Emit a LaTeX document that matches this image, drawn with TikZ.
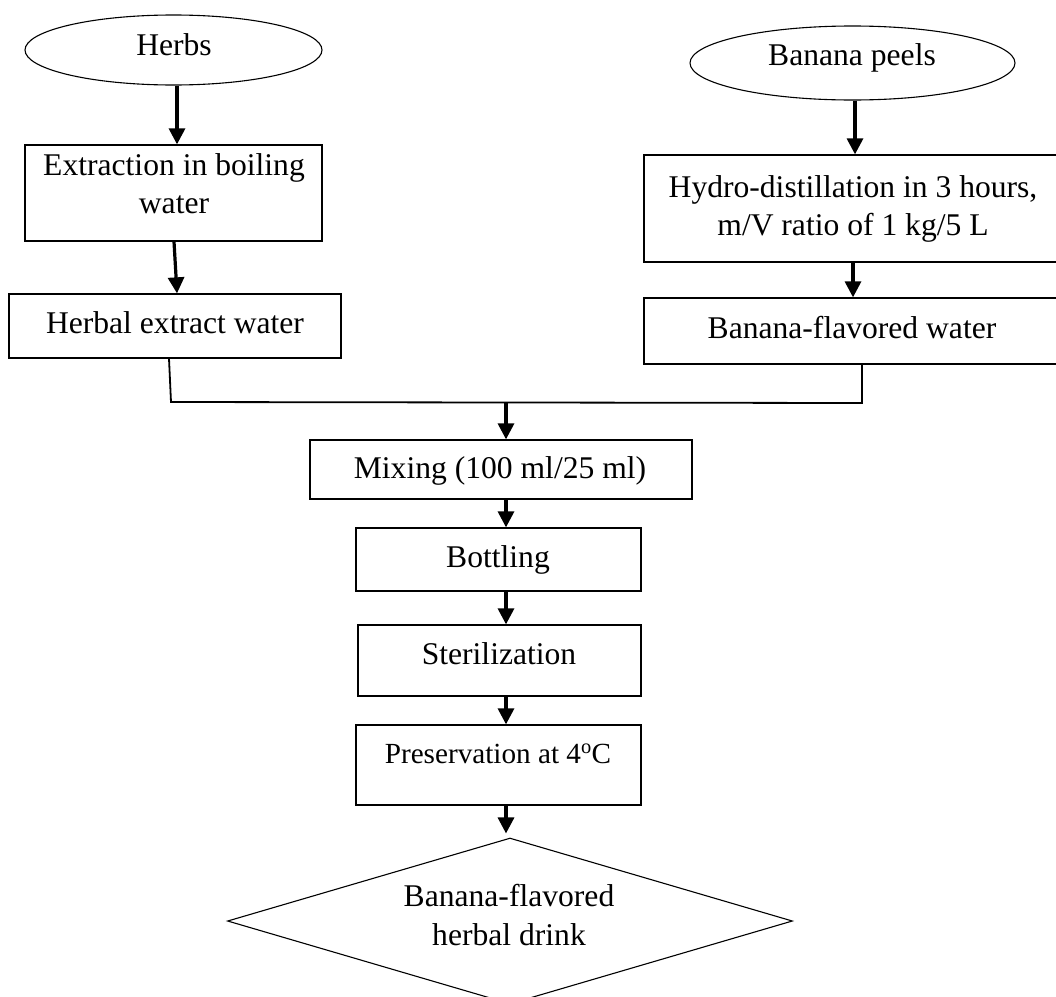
\documentclass[tikz,border=0pt]{standalone}
\usepackage{fontspec}
\setmainfont{Liberation Serif}
\usetikzlibrary{shapes.geometric,arrows.meta}
\newcommand\lnstrut{\rule[-7pt]{0pt}{29pt}}
\begin{document}
\begin{tikzpicture}[x=1pt,y=-1pt,
  box/.style={draw,line width=1.3pt,rectangle,inner sep=0pt},
  oval/.style={draw,line width=1.1pt,ellipse,inner sep=0pt},
  diam/.style={draw,line width=1.1pt,diamond,inner sep=0pt},
  lbl/.style={inner sep=0pt,align=center,font=\fontsize{31.6}{38}\selectfont},
  arr/.style={line width=3.2pt,-{Triangle[width=16pt,length=16pt]}},
  conn/.style={line width=1.8pt}]
\useasboundingbox (0,0) rectangle (1056,996);
\clip (0,0) rectangle (1056,996);
\fill[white] (0,0) rectangle (1056,996);

% shapes
\node[oval,minimum width=297pt,minimum height=70pt] (herbs) at (173.5,50) {};
\node[box,minimum width=297pt,minimum height=96pt] (extr) at (173.5,193) {};
\node[box,minimum width=332pt,minimum height=64pt] (hew) at (175,326) {};
\node[oval,minimum width=325pt,minimum height=74pt] (peels) at (852.5,63) {};
\node[box,minimum width=418pt,minimum height=107pt] (hydro) at (853,208.5) {};
\node[box,minimum width=418pt,minimum height=66pt] (bfw) at (853,331) {};
\node[box,minimum width=382pt,minimum height=59pt] (mix) at (501,469.5) {};
\node[box,minimum width=285pt,minimum height=63pt] (bott) at (498.5,559.5) {};
\node[box,minimum width=283pt,minimum height=71pt] (ster) at (499.5,660.5) {};
\node[box,minimum width=285pt,minimum height=80pt] (pres) at (498.5,765) {};
\node[diam,minimum width=565pt,minimum height=166pt] (drink) at (510,921) {};

% texts
\node[lbl] (herbsT) at (174,47.5) {\lnstrut Herbs};
\node[lbl] (extrT) at (174,186.5) {\lnstrut Extraction in boiling\\\lnstrut water};
\node[lbl] (hewT) at (175,325.5) {\lnstrut Herbal extract water};
\node[lbl] (peelsT) at (852,58) {\lnstrut Banana peels};
\node[lbl] (hydroT) at (853,208.5) {\lnstrut Hydro-distillation in 3 hours,\\\lnstrut m/V ratio of 1 kg/5 L};
\node[lbl] (bfwT) at (852,330.5) {\lnstrut Banana-flavored water};
\node[lbl] (mixT) at (500,471) {\lnstrut Mixing (100 ml/25 ml)};
\node[lbl] (bottT) at (498,559.5) {\lnstrut Bottling};
\node[lbl] (sterT) at (499,656.5) {\lnstrut Sterilization};
\node[lbl,font=\fontsize{29.2}{35}\selectfont] (presT) at (498,755.5) {\lnstrut Preservation at 4\textsuperscript{o}C};
\node[lbl,font=\fontsize{31.6}{39}\selectfont] (drinkT) at (509,918.5) {\lnstrut Banana-flavored\\\lnstrut herbal drink};

% connectors
\coordinate (jl) at (171,402);
\coordinate (jr) at (862,403);
\coordinate (jm) at (506,402.5);
\draw[arr] ([xshift=3.5pt]herbs.south) -- ([xshift=3.5pt]extr.north);
\draw[arr] ([xshift=0.5pt]extr.south) -- ([xshift=2pt]hew.north);
\draw[arr] ([xshift=2.5pt]peels.south) -- ([xshift=2pt]hydro.north);
\draw[arr] (hydro.south) -- (bfw.north);
\draw[conn] ([xshift=-6pt]hew.south) -- (jl) -- (jr) -- ([xshift=9pt]bfw.south);
\draw[arr] (jm) -- (mix.north -| jm);
\draw[arr] (mix.south -| jm) -- (bott.north -| jm);
\draw[arr] (bott.south -| jm) -- (ster.north -| jm);
\draw[arr] (ster.south -| jm) -- (pres.north -| jm);
\draw[arr] (pres.south -| jm) -- ([yshift=4pt]drink.north -| jm);
\end{tikzpicture}
\end{document}
